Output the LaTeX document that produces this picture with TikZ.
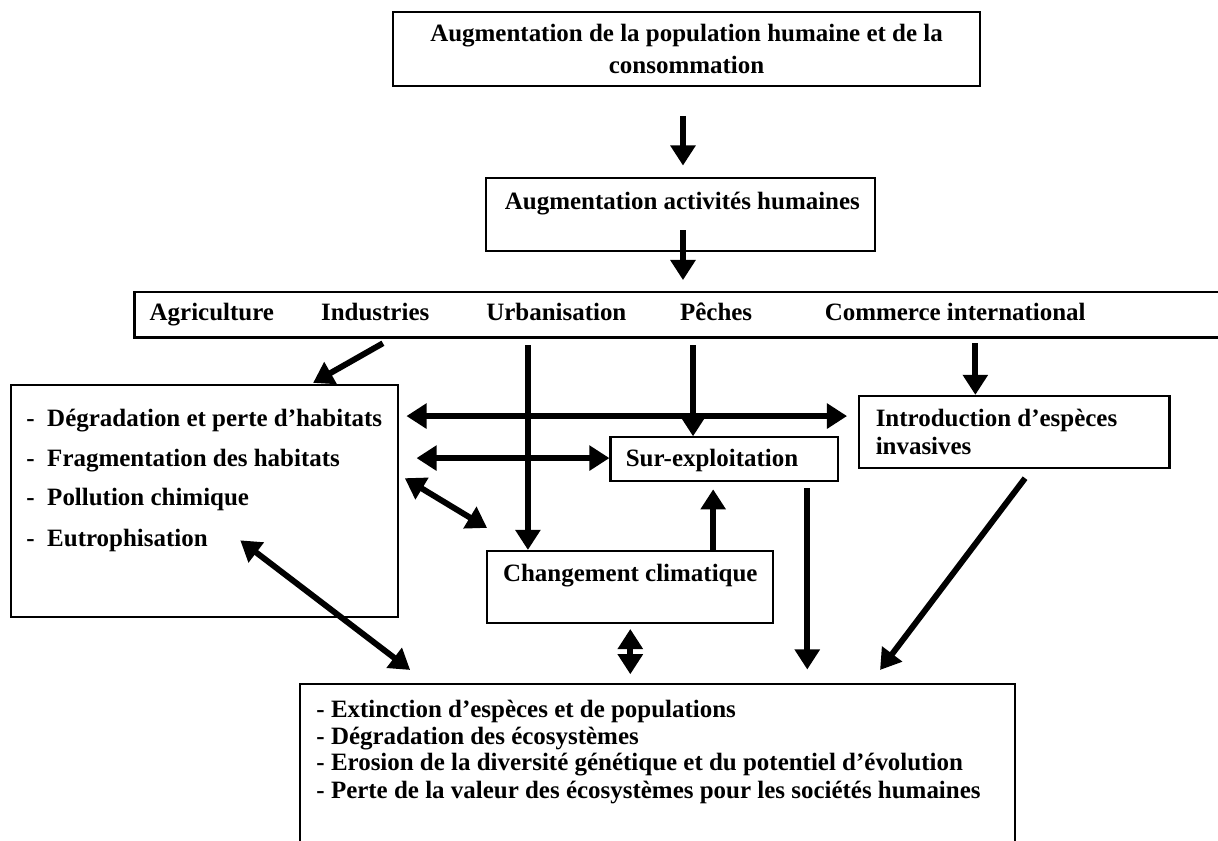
\documentclass[tikz,border=0pt]{standalone}
\usepackage{fontspec}
\setmainfont{Liberation Serif}
\usetikzlibrary{arrows.meta}

\begin{document}
\begin{tikzpicture}[
  box/.style={draw, line width=1pt, inner sep=0pt},
  lbl/.style={font=\bfseries\fontsize{12}{14}\selectfont, inner sep=0pt, text height=8pt, text depth=2pt},
  fat/.style={line width=0.1cm, -{Triangle[length=0.34cm, width=0.41cm]}},
  fatboth/.style={line width=0.1cm, {Triangle[length=0.34cm, width=0.41cm]}-{Triangle[length=0.34cm, width=0.41cm]}}
]
  \useasboundingbox (0cm, 0cm) rectangle (20.58cm, -14.21cm);

  \node[box, minimum width=9.92cm, minimum height=1.25cm, align=center,
        font=\bfseries\fontsize{12}{15.4}\selectfont] (popu) at (11.60cm, -0.83cm)
        {Augmentation de la population humaine et de la\\consommation};

  \node[box, minimum width=6.57cm, minimum height=1.23cm] (acti) at (11.50cm, -3.63cm) {};
  \node[lbl] (actitxt) at (11.53cm, -3.43cm) {Augmentation activités humaines};

  \node[minimum width=18.30cm, minimum height=0.76cm, inner sep=0pt] (band) at (11.43cm, -5.32cm) {};
  \draw[line width=1.3pt] (band.north east) -- (band.north west) -- (band.south west) -- (band.south east);

  \node[lbl] (agri) at (3.58cm, -5.31cm) {Agriculture};
  \node[lbl] (indu) at (6.34cm, -5.31cm) {Industries};
  \node[lbl] (urba) at (9.40cm, -5.31cm) {Urbanisation};
  \node[lbl] (peche) at (12.10cm, -5.31cm) {Pêches};
  \node[lbl] (comm) at (16.14cm, -5.31cm) {Commerce international};

  \node[box, minimum width=6.54cm, minimum height=3.92cm] (habi) at (3.46cm, -8.47cm) {};
  \node[lbl, anchor=west] (degr) at (0.44cm, -7.10cm) {-\enspace Dégradation et perte d’habitats};
  \node[lbl, anchor=west] (frag) at (0.44cm, -7.77cm) {-\enspace Fragmentation des habitats};
  \node[lbl, anchor=west] (poll) at (0.44cm, -8.43cm) {-\enspace Pollution chimique};
  \node[lbl, anchor=west] (eutr) at (0.44cm, -9.13cm) {-\enspace Eutrophisation};

  \node[box, minimum width=5.24cm, minimum height=1.22cm] (intro) at (17.14cm, -7.30cm) {};
  \node[lbl, anchor=west] (introa) at (14.79cm, -7.10cm) {Introduction d’espèces};
  \node[lbl, anchor=west] (introb) at (14.79cm, -7.57cm) {invasives};

  \node[box, minimum width=3.85cm, minimum height=0.74cm] (surx) at (12.24cm, -7.76cm) {};
  \node[lbl] (surxtxt) at (12.03cm, -7.77cm) {Sur-exploitation};

  \node[box, minimum width=4.83cm, minimum height=1.22cm] (clim) at (10.65cm, -9.92cm) {};
  \node[lbl] (climtxt) at (10.65cm, -9.72cm) {Changement climatique};

  \node[minimum width=12.08cm, minimum height=2.64cm, inner sep=0pt] (cons) at (11.11cm, -12.89cm) {};
  \draw[line width=1pt] (cons.south west) -- (cons.north west) -- (cons.north east) -- (cons.south east);
  \node[lbl, anchor=west] (exti) at (5.34cm, -12.01cm) {- Extinction d’espèces et de populations};
  \node[lbl, anchor=west] (ecos) at (5.34cm, -12.47cm) {- Dégradation des écosystèmes};
  \node[lbl, anchor=west] (gene) at (5.34cm, -12.92cm) {- Erosion de la diversité génétique et du potentiel d’évolution};
  \node[lbl, anchor=west] (vale) at (5.34cm, -13.38cm) {- Perte de la valeur des écosystèmes pour les sociétés humaines};

  % free ends of the arrows
  \coordinate (s1) at (11.54cm, -1.96cm);
  \coordinate (s2) at (11.54cm, -3.89cm);
  \coordinate (s3) at (6.47cm, -5.80cm);
  \coordinate (t3) at (5.29cm, -6.47cm);
  \coordinate (u1) at (8.92cm, -5.83cm);
  \coordinate (u2) at (11.71cm, -5.83cm);
  \coordinate (u3) at (16.48cm, -5.80cm);
  \coordinate (h1) at (0cm, -7.03cm);
  \coordinate (h2) at (0cm, -7.74cm);
  \coordinate (d1) at (6.84cm, -8.08cm);
  \coordinate (d2) at (8.23cm, -8.92cm);
  \coordinate (c1) at (12.05cm, -9.31cm);
  \coordinate (c2) at (13.64cm, -8.25cm);
  \coordinate (c3) at (17.32cm, -8.08cm);
  \coordinate (c4) at (14.87cm, -11.32cm);
  \coordinate (e1) at (4.06cm, -9.13cm);
  \coordinate (e2) at (6.93cm, -11.32cm);

  \draw[fat, shorten >=0.20cm] (s1) -- (s1 |- acti.north);
  \draw[fat, shorten >=0.20cm] (s2) -- (s2 |- band.north);
  \draw[fat] (s3) -- (t3);
  \draw[fat] (u1) -- (u1 |- clim.north);
  \draw[fat] (u2) -- (u2 |- surx.north);
  \draw[fat] (u3) -- (u3 |- intro.north);
  \draw[fatboth, shorten <=0.12cm, shorten >=0.19cm] (habi.east |- h1) -- (intro.west |- h1);
  \draw[fatboth, shorten <=0.29cm] (habi.east |- h2) -- (surx.west |- h2);
  \draw[fatboth] (d1) -- (d2);
  \draw[fat, shorten >=0.12cm] (c1) -- (c1 |- surx.south);
  \draw[fat, shorten >=0.25cm] (c2) -- (c2 |- cons.north);
  \draw[fat] (c3) -- (c4);
  \draw[fatboth, shorten <=0.08cm, shorten >=0.17cm] (clim.south) -- (clim.south |- cons.north);
  \draw[fatboth] (e1) -- (e2);

\end{tikzpicture}
\end{document}
